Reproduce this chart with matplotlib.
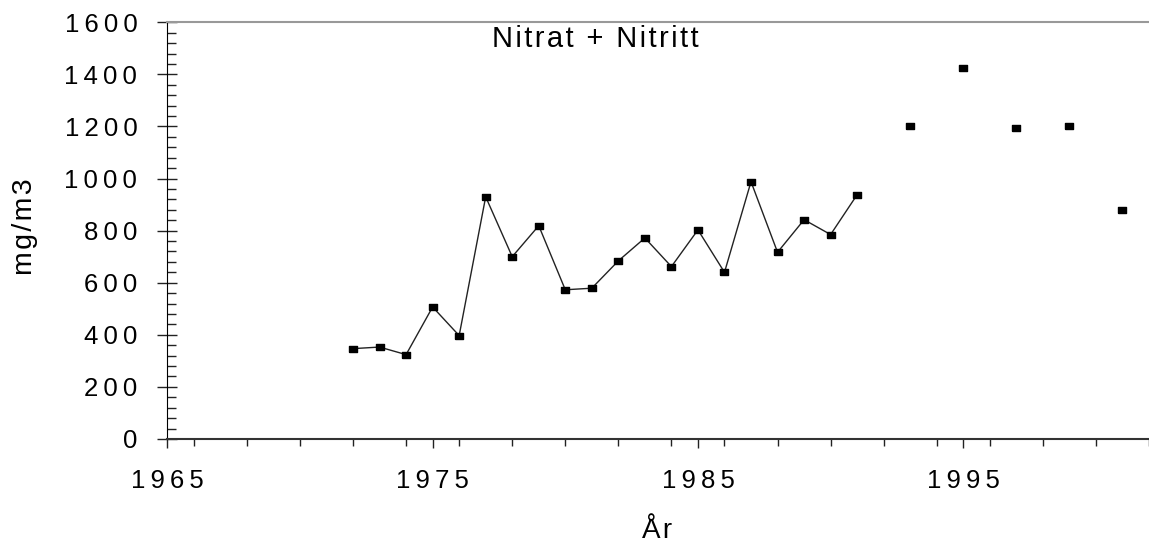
import matplotlib
matplotlib.use("Agg")
import matplotlib.pyplot as plt
from matplotlib.ticker import MultipleLocator, FixedLocator

plt.rcParams['font.family'] = ['Liberation Sans', 'DejaVu Sans']

# årlige verdier 1972-1991 (sammenhengende linje)
aar_linje = [1972, 1973, 1974, 1975, 1976, 1977, 1978, 1979, 1980, 1981,
             1982, 1983, 1984, 1985, 1986, 1987, 1988, 1989, 1990, 1991]
verdi_linje = [347, 353, 324, 507, 397, 930, 700, 819, 573, 579,
               684, 772, 662, 803, 640, 988, 717, 842, 785, 938]

# enkeltpunkter etter 1991
aar_punkt = [1993, 1995, 1997, 1999, 2001]
verdi_punkt = [1203, 1423, 1193, 1200, 880]

x_ticks = [1965, 1975, 1985, 1995]
y_ticks = [0, 200, 400, 600, 800, 1000, 1200, 1400, 1600]

tittel = "Nitrat + Nitritt"


def sperr(s, mellom='\u2009'):
    # sperret skrift, som i originalen
    return mellom.join(s)


fig = plt.figure(figsize=(11.49, 5.45), dpi=100)
ax = fig.add_axes([167.3 / 1149, 1 - 439 / 545, 1 - 167.3 / 1149, (439 - 22.3) / 545])

rekt = [(-1.4, -1), (1.4, -1), (1.4, 1), (-1.4, 1), (-1.4, -1)]
ax.plot(aar_linje, verdi_linje, color='#222222', lw=1.0, marker=rekt, ms=6,
        mfc='black', mec='black', clip_on=False)
ax.plot(aar_punkt, verdi_punkt, ls='none', marker=rekt, ms=6,
        mfc='black', mec='black', clip_on=False)

ax.set_xlim(1965, 2002)
ax.set_ylim(0, 1600)

ax.xaxis.set_major_locator(FixedLocator(x_ticks))
ax.xaxis.set_minor_locator(MultipleLocator(2))
ax.yaxis.set_major_locator(FixedLocator(y_ticks))
ax.yaxis.set_minor_locator(MultipleLocator(40))

ax.set_xticklabels([sperr(str(v)) for v in x_ticks])
ax.set_yticklabels([sperr(str(v)) for v in y_ticks])

ax.tick_params(axis='x', which='major', direction='out', length=6.5, width=1,
               color='#222222', labelsize=18.5, pad=15)
ax.tick_params(axis='x', which='minor', direction='out', length=4.7, width=1,
               color='#222222')
ax.tick_params(axis='y', which='major', direction='inout', length=14.4, width=1,
               color='#222222', labelsize=18.5, pad=14.4)
ax.tick_params(axis='y', which='minor', direction='in', length=6.5, width=1,
               color='#222222')

ax.spines['right'].set_visible(False)
ax.spines['top'].set_color('#999999')
ax.spines['top'].set_linewidth(1.5)
ax.spines['left'].set_color('black')
ax.spines['bottom'].set_color('#333333')
ax.spines['bottom'].set_linewidth(1.5)

ax.text(0.4355, 0.9407, sperr(tittel, '\u200a'), transform=ax.transAxes,
        ha='center', va='baseline', fontsize=21)

ax.set_xlabel(sperr("År", '\u200a'), fontsize=20)
ax.xaxis.set_label_coords(0.4993, -0.2376)
ax.xaxis.label.set_va('baseline')
ax.set_ylabel(sperr("mg/m3", '\u200a'), fontsize=20.5)
ax.yaxis.set_label_coords(-0.145, 0.51)
ax.yaxis.label.set_va('center')

fig.savefig("out.png", dpi=100)
